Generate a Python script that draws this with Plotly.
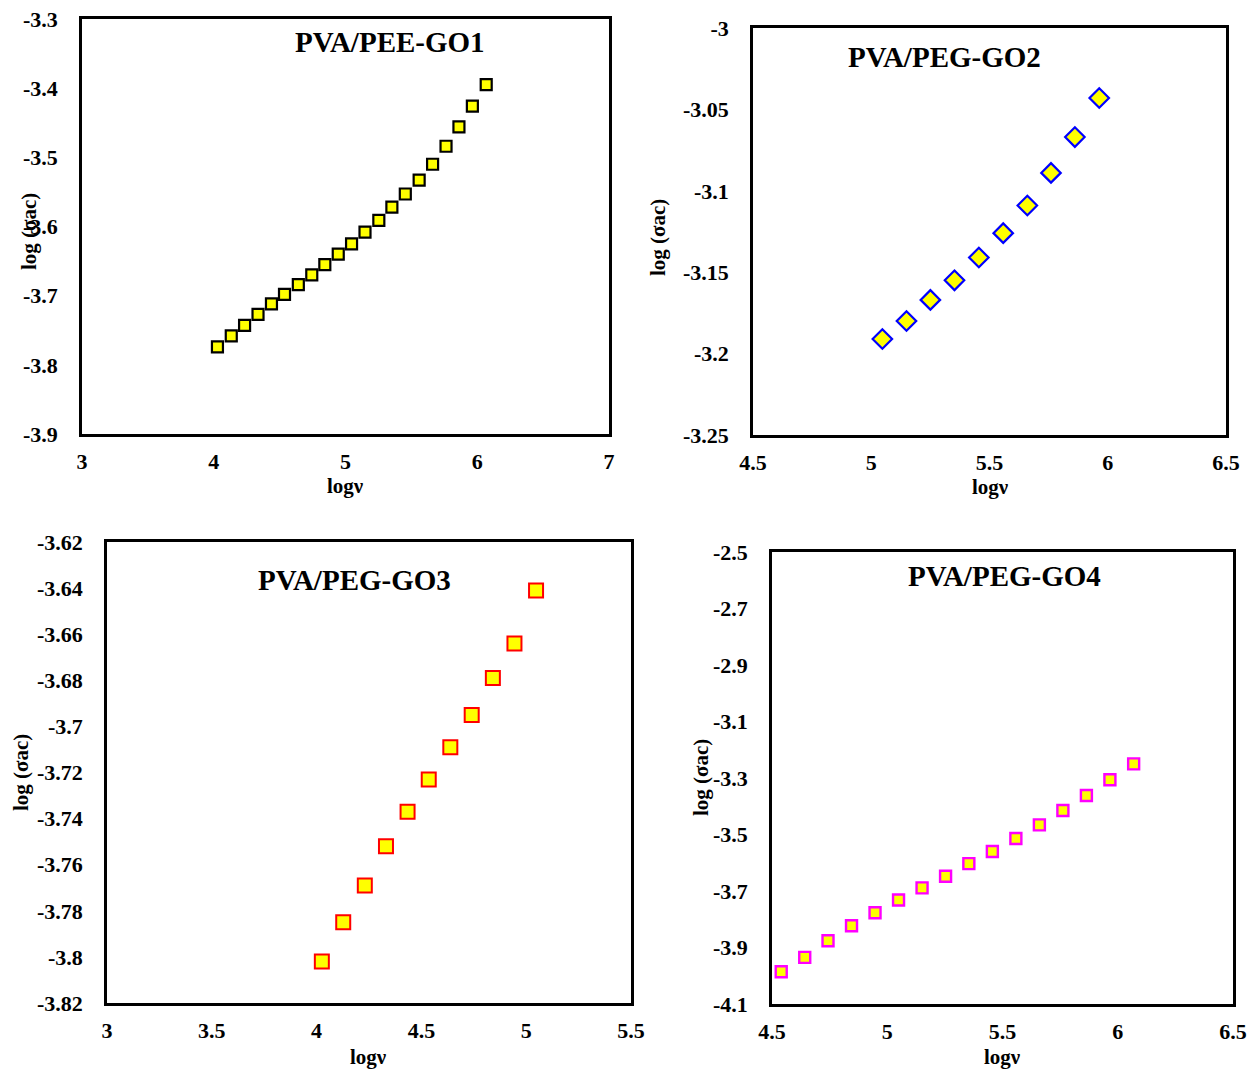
import plotly.graph_objects as go

W, H = 1257, 1070
FONT = "Liberation Serif"

# ---------------- data ----------------
go1_x = [4.028, 4.133, 4.234, 4.336, 4.438, 4.537, 4.642, 4.744, 4.843, 4.945, 5.046,
         5.148, 5.253, 5.352, 5.454, 5.559, 5.661, 5.763, 5.861, 5.963, 6.068]
go1_y = [-3.774, -3.758, -3.743, -3.727, -3.712, -3.698, -3.684, -3.670, -3.655, -3.640, -3.625,
         -3.608, -3.591, -3.572, -3.553, -3.533, -3.510, -3.484, -3.456, -3.426, -3.395]

go2_x = [5.047, 5.149, 5.250, 5.352, 5.455, 5.558, 5.660, 5.760, 5.861, 5.964]
go2_y = [-3.191, -3.180, -3.167, -3.155, -3.141, -3.126, -3.109, -3.089, -3.067, -3.043]

go3_x = [4.025, 4.127, 4.230, 4.331, 4.434, 4.535, 4.638, 4.740, 4.841, 4.944, 5.047]
go3_y = [-3.802, -3.785, -3.769, -3.752, -3.737, -3.723, -3.709, -3.695, -3.679, -3.664, -3.641]

go4_x = [4.540, 4.642, 4.743, 4.845, 4.947, 5.049, 5.151, 5.253, 5.354, 5.456, 5.558,
         5.660, 5.762, 5.864, 5.966, 6.069]
go4_y = [-3.986, -3.935, -3.876, -3.823, -3.777, -3.732, -3.689, -3.648, -3.603, -3.560, -3.514,
         -3.466, -3.415, -3.362, -3.306, -3.250]

titles = ["PVA/PEE-GO1", "PVA/PEG-GO2", "PVA/PEG-GO3", "PVA/PEG-GO4"]

x1_ticks = [3, 4, 5, 6, 7]
y1_ticks = [-3.3, -3.4, -3.5, -3.6, -3.7, -3.8, -3.9]
y1_text = ["-3.3", "-3.4", "-3.5", "-3.6", "-3.7", "-3.8", "-3.9"]

x2_ticks = [4.5, 5, 5.5, 6, 6.5]
x2_text = ["4.5", "5", "5.5", "6", "6.5"]
y2_ticks = [-3.0, -3.05, -3.1, -3.15, -3.2, -3.25]
y2_text = ["-3", "-3.05", "-3.1", "-3.15", "-3.2", "-3.25"]

x3_ticks = [3, 3.5, 4, 4.5, 5, 5.5]
x3_text = ["3", "3.5", "4", "4.5", "5", "5.5"]
y3_ticks = [-3.62, -3.64, -3.66, -3.68, -3.70, -3.72, -3.74, -3.76, -3.78, -3.80, -3.82]
y3_text = ["-3.62", "-3.64", "-3.66", "-3.68", "-3.7", "-3.72", "-3.74", "-3.76", "-3.78", "-3.8", "-3.82"]

x4_ticks = [4.5, 5, 5.5, 6, 6.5]
x4_text = ["4.5", "5", "5.5", "6", "6.5"]
y4_ticks = [-2.5, -2.7, -2.9, -3.1, -3.3, -3.5, -3.7, -3.9, -4.1]
y4_text = ["-2.5", "-2.7", "-2.9", "-3.1", "-3.3", "-3.5", "-3.7", "-3.9", "-4.1"]

# ---------------- figure ----------------
fig = go.Figure()

fig.add_trace(go.Scatter(x=go1_x, y=go1_y, mode="markers", xaxis="x", yaxis="y",
                         marker=dict(symbol="square", size=11, color="#FFFF00",
                                     line=dict(color="black", width=2.2)),
                         showlegend=False))
fig.add_trace(go.Scatter(x=go2_x, y=go2_y, mode="markers", xaxis="x2", yaxis="y2",
                         marker=dict(symbol="diamond", size=15, color="#FFFF00",
                                     line=dict(color="#0000FF", width=2.2)),
                         showlegend=False))
fig.add_trace(go.Scatter(x=go3_x, y=go3_y, mode="markers", xaxis="x3", yaxis="y3",
                         marker=dict(symbol="square", size=14, color="#FFFF00",
                                     line=dict(color="#FF0000", width=2)),
                         showlegend=False))
fig.add_trace(go.Scatter(x=go4_x, y=go4_y, mode="markers", xaxis="x4", yaxis="y4",
                         marker=dict(symbol="square", size=11, color="#FFFF00",
                                     line=dict(color="#FF00FF", width=2.4)),
                         showlegend=False))

tickfont = dict(family=FONT, size=22, color="black", weight="bold")


def xax(dom, anchor, rng, vals, text):
    return dict(domain=dom, anchor=anchor, range=rng, tickvals=vals, ticktext=text,
                showline=True, linecolor="black", linewidth=2.5, mirror=True,
                showgrid=False, zeroline=False, ticks="", ticklabelstandoff=6,
                automargin=False, tickfont=tickfont)


def yax(dom, anchor, rng, vals, text):
    return dict(domain=dom, anchor=anchor, range=rng, tickvals=vals, ticktext=text,
                showline=True, linecolor="black", linewidth=2.5, mirror=True,
                showgrid=False, zeroline=False, ticks="", ticklabelstandoff=17,
                automargin=False, tickfont=tickfont)


def dx(p):
    return p / W


def dy(p):
    return 1 - p / H


fig.update_layout(
    width=W, height=H, margin=dict(l=0, r=0, t=0, b=0, autoexpand=False),
    paper_bgcolor="white", plot_bgcolor="white",
    xaxis=xax([dx(82), dx(609)], "y", [3, 7], x1_ticks, [str(v) for v in x1_ticks]),
    yaxis=yax([dy(434), dy(19)], "x", [-3.9, -3.3], y1_ticks, y1_text),
    xaxis2=xax([dx(753), dx(1226)], "y2", [4.5, 6.5], x2_ticks, x2_text),
    yaxis2=yax([dy(435), dy(28)], "x2", [-3.25, -3.0], y2_ticks, y2_text),
    xaxis3=xax([dx(107), dx(631)], "y3", [3, 5.5], x3_ticks, x3_text),
    yaxis3=yax([dy(1003), dy(542)], "x3", [-3.82, -3.62], y3_ticks, y3_text),
    xaxis4=xax([dx(772), dx(1233)], "y4", [4.5, 6.5], x4_ticks, x4_text),
    yaxis4=yax([dy(1004), dy(552)], "x4", [-4.1, -2.5], y4_ticks, y4_text),
)

titlefont = dict(family=FONT, size=29, color="black", weight="bold")
axfont = dict(family=FONT, size=21, color="black", weight="bold")

ann = []
# panel titles (pixel centres)
for t, (px, py) in zip(titles, [(390, 42), (944, 57), (354, 580), (1005, 576)]):
    ann.append(dict(text=t, x=dx(px), y=dy(py), xref="paper", yref="paper",
                    xanchor="center", yanchor="middle", showarrow=False, font=titlefont))
# x-axis titles
for (px, py) in [(345, 486), (990, 487), (368, 1057), (1002, 1057)]:
    ann.append(dict(text="logν", x=dx(px), y=dy(py), xref="paper", yref="paper",
                    xanchor="center", yanchor="middle", showarrow=False, font=axfont))
# y-axis titles
for (px, py) in [(29, 232), (658, 238), (21, 773), (701, 778)]:
    ann.append(dict(text="log (σac)", x=dx(px), y=dy(py), xref="paper", yref="paper",
                    xanchor="center", yanchor="middle", textangle=-90, showarrow=False,
                    font=axfont))
fig.update_layout(annotations=ann)

fig.write_html("out.html")
